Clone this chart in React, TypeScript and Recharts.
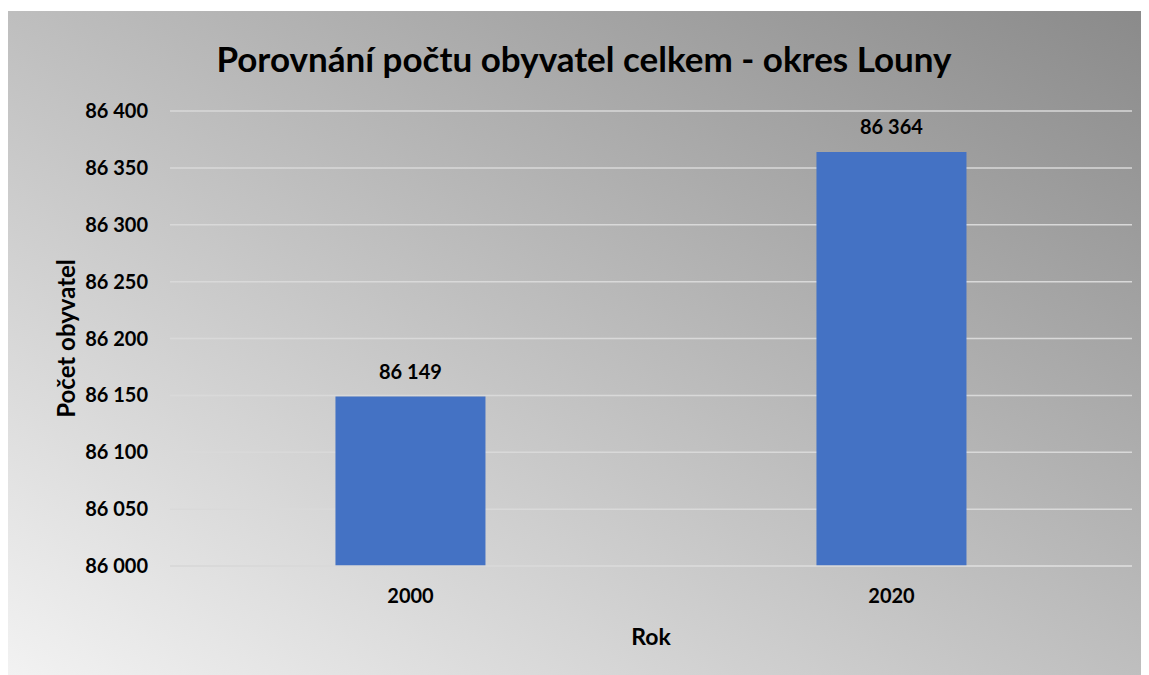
import { BarChart, Bar, XAxis, YAxis, CartesianGrid, LabelList, Label } from "recharts";

const years = ["2000", "2020"];
const population = [86149, 86364];
const yTicks = [86000, 86050, 86100, 86150, 86200, 86250, 86300, 86350, 86400];

const data = years.map((rok, i) => ({ rok, pocet: population[i] }));

const FONT = "Lato, 'Open Sans', sans-serif";

const fmt = (v: any) => String(v).replace(/\B(?=(\d{3})+(?!\d))/g, " ");

const App = () => {
  return (
    <div
      style={{
        position: "relative",
        width: 1141,
        height: 664,
        marginTop: 3,
        background: "linear-gradient(to top right, #f2f2f2, #8a8a8a)",
        fontFamily: FONT,
      }}
    >
      <div
        style={{
          position: "absolute",
          left: 0,
          width: 1152,
          top: 26,
          textAlign: "center",
          fontSize: 35,
          fontWeight: 700,
          color: "#000",
        }}
      >
        Porovnání počtu obyvatel celkem - okres Louny
      </div>
      <BarChart
        width={1141}
        height={664}
        data={data}
        margin={{ top: 100, right: 17, bottom: 9, left: 62 }}
        barCategoryGap="34.4%"
        style={{ position: "absolute", left: 0, top: 0 }}
      >
        <CartesianGrid vertical={false} stroke="#d9d9d9" strokeWidth={1.5} />
        <XAxis
          dataKey="rok"
          height={100}
          axisLine={{ stroke: "#d9d9d9", strokeWidth: 1.5 }}
          tickLine={false}
          tickSize={0}
          tickMargin={23}
          tick={{ fill: "#000", fontSize: 20, fontWeight: 700, fontFamily: FONT }}
        >
          <Label
            content={(props: any) => {
              const vb = props.viewBox;
              return (
                <text
                  x={vb.x + vb.width / 2}
                  y={vb.y + 79}
                  textAnchor="middle"
                  fill="#000"
                  fontSize={23}
                  fontWeight={700}
                  fontFamily={FONT}
                >
                  Rok
                </text>
              );
            }}
          />
        </XAxis>
        <YAxis
          width={100}
          domain={[86000, 86400]}
          ticks={yTicks}
          interval={0}
          axisLine={false}
          tickLine={false}
          tickSize={0}
          tickMargin={22}
          tickFormatter={fmt}
          tick={{ fill: "#000", fontSize: 20, fontWeight: 700, fontFamily: FONT }}
        >
          <Label
            content={(props: any) => {
              const vb = props.viewBox;
              const cx = 57;
              const cy = vb.y + vb.height / 2;
              return (
                <text
                  x={cx}
                  y={cy}
                  transform={`rotate(-90 ${cx} ${cy})`}
                  textAnchor="middle"
                  dominantBaseline="central"
                  fill="#000"
                  fontSize={24}
                  fontWeight={700}
                  fontFamily={FONT}
                >
                  Počet obyvatel
                </text>
              );
            }}
          />
        </YAxis>
        <Bar dataKey="pocet" fill="#4472c4" isAnimationActive={false}>
          <LabelList
            dataKey="pocet"
            position="top"
            offset={18}
            formatter={fmt}
            fill="#000"
            fontSize={20}
            fontWeight={700}
            fontFamily={FONT}
          />
        </Bar>
      </BarChart>
    </div>
  );
};

export default App;
